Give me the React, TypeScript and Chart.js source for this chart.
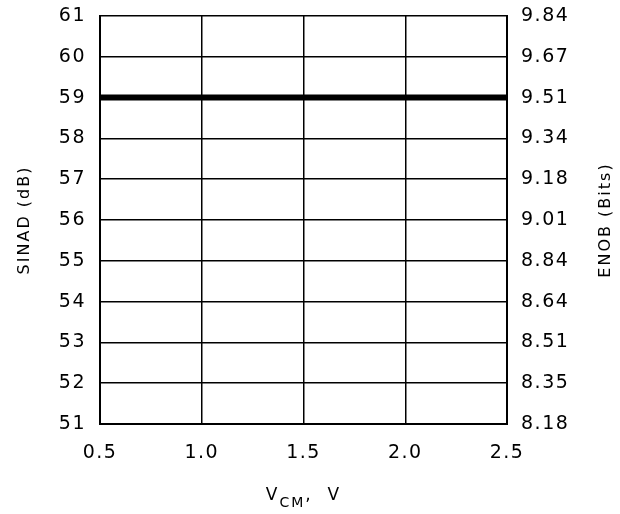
import React, { useEffect, useRef } from "react";
import { Chart, registerables } from "chart.js";

Chart.register(...registerables);

const xValues = [0.5, 2.5];
const sinadValues = [59, 59];
const xTickLabels = ["0.5", "1.0", "1.5", "2.0", "2.5"];
const leftTickValues = [51, 52, 53, 54, 55, 56, 57, 58, 59, 60, 61];
const enobTickLabels = ["8.18", "8.35", "8.51", "8.64", "8.84", "9.01", "9.18", "9.34", "9.51", "9.67", "9.84"];
const leftTitle = "SINAD (dB)";
const rightTitle = "ENOB (Bits)";

const FONT = "'DejaVu Sans', sans-serif";

const spacingPlugin = {
  id: "spacing",
  beforeDraw(chart: any) {
    (chart.ctx as any).letterSpacing = "1.5px";
  },
  afterDraw(chart: any) {
    const ctx = chart.ctx;
    const area = chart.chartArea;
    ctx.save();
    (ctx as any).letterSpacing = "2px";
    ctx.fillStyle = "#000";
    ctx.textBaseline = "alphabetic";
    ctx.textAlign = "left";
    const big = `17px ${FONT}`;
    const small = `14px ${FONT}`;
    const parts = [
      { t: "V", f: big, dy: 0 },
      { t: "CM", f: small, dy: 7 },
      { t: ",  V", f: big, dy: 0 },
    ];
    let total = 0;
    for (const p of parts) {
      ctx.font = p.f;
      total += ctx.measureText(p.t).width;
    }
    let x = (area.left + area.right) / 2 - total / 2;
    const y = 500;
    for (const p of parts) {
      ctx.font = p.f;
      ctx.fillText(p.t, x, y + p.dy);
      x += ctx.measureText(p.t).width;
    }
    const midY = (area.top + area.bottom) / 2;
    ctx.font = `16px ${FONT}`;
    ctx.textAlign = "center";
    ctx.textBaseline = "middle";
    for (const [t, cx] of [[leftTitle, 25], [rightTitle, 606]] as [string, number][]) {
      ctx.save();
      ctx.translate(cx, midY);
      ctx.rotate(-Math.PI / 2);
      ctx.fillText(t, 0, 0);
      ctx.restore();
    }
    ctx.restore();
  },
};

const zeroPad = (scale: any) => {
  scale.paddingTop = 0;
  scale.paddingBottom = 0;
  scale.paddingLeft = 0;
  scale.paddingRight = 0;
};

export default function App() {
  const ref = useRef<HTMLCanvasElement>(null);
  useEffect(() => {
    if (!ref.current) return;
    const chart = new Chart(ref.current, {
      type: "scatter",
      data: {
        datasets: [
          {
            data: xValues.map((x, i) => ({ x, y: sinadValues[i] })),
            showLine: true,
            borderColor: "#000",
            borderWidth: 6,
            pointRadius: 0,
            borderCapStyle: "butt",
          },
        ],
      },
      options: {
        animation: false,
        responsive: false,
        events: [],
        layout: { padding: { top: 16, bottom: 0, left: 0, right: 0 } },
        plugins: { legend: { display: false }, tooltip: { enabled: false } },
        scales: {
          x: {
            type: "linear",
            min: 0.5,
            max: 2.5,
            afterBuildTicks(scale: any) {
              scale.ticks = xTickLabels.map((l) => ({ value: parseFloat(l) }));
            },
            afterFit(scale: any) {
              scale.height = 90;
              zeroPad(scale);
            },
            ticks: {
              color: "#000",
              font: { family: FONT, size: 19 },
              padding: 18,
              maxRotation: 0,
              callback: (v: any) => Number(v).toFixed(1),
            },
            grid: { color: "#000", lineWidth: 1.5, drawTicks: false },
            border: { color: "#000", width: 2 },
          },
          y: {
            type: "linear",
            position: "left",
            min: 51,
            max: 61,
            afterBuildTicks(scale: any) {
              scale.ticks = leftTickValues.map((v) => ({ value: v }));
            },
            afterFit(scale: any) {
              scale.width = 100;
              zeroPad(scale);
            },
            ticks: {
              color: "#000",
              font: { family: FONT, size: 19 },
              padding: 14,
            },
            grid: { color: "#000", lineWidth: 1.5, drawTicks: false },
            border: { color: "#000", width: 2 },
          },
          y2: {
            type: "linear",
            position: "right",
            min: 51,
            max: 61,
            afterBuildTicks(scale: any) {
              scale.ticks = leftTickValues.map((v) => ({ value: v }));
            },
            afterFit(scale: any) {
              scale.width = 113;
              zeroPad(scale);
            },
            ticks: {
              color: "#000",
              font: { family: FONT, size: 19 },
              padding: 14,
              callback: (v: any) => enobTickLabels[leftTickValues.indexOf(Number(v))] ?? "",
            },
            grid: { display: false, drawTicks: false },
            border: { color: "#000", width: 2 },
          },
        },
      },
      plugins: [spacingPlugin],
    } as any);
    return () => chart.destroy();
  }, []);
  return (
    <div style={{ position: "fixed", left: 0, top: 0, width: 620, height: 514, background: "#fff" }}>
      <canvas ref={ref} width={620} height={514} style={{ width: 620, height: 514 }} />
    </div>
  );
}
